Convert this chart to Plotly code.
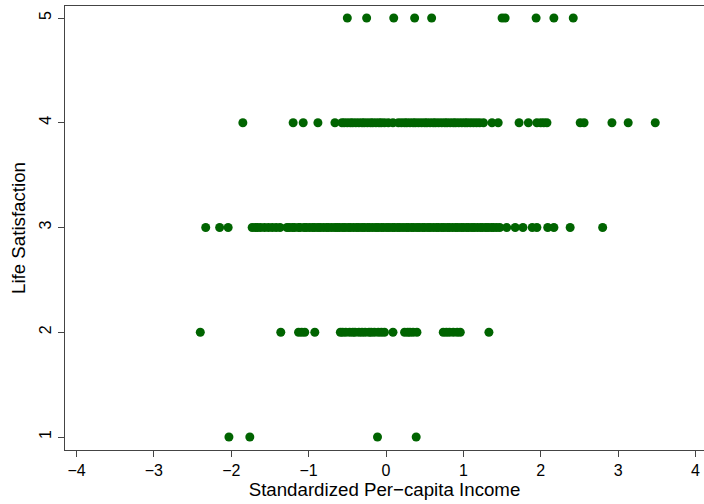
import plotly.graph_objects as go

# Standardized per-capita income, grouped by life-satisfaction level
income_ls1 = [-2.03, -1.76, -0.11, 0.39]
income_ls2 = [-2.40, -1.36, -1.13, -1.09, -1.05, -0.92,
              -0.59, -0.56, -0.52, -0.47, -0.43, -0.40, -0.35, -0.31, -0.27,
              -0.22, -0.19, -0.15, -0.10, -0.06, -0.02, 0.09,
              0.24, 0.28, 0.31, 0.35, 0.40, 0.74, 0.78, 0.82, 0.87, 0.92, 0.96, 1.33]
income_ls3 = [-2.33, -2.15, -2.04, -1.73, -1.69, -1.66, -1.62, -1.57, -1.52, -1.47, -1.42, -1.37,
              -1.28, -1.25, -1.21, -1.18, -1.13, -1.11, -1.06, -1.03, -0.99, -0.95, -0.92,
              -0.88, -0.85, -0.81, -0.77, -0.74, -0.70, -0.66, -0.63, -0.60, -0.56, -0.53,
              -0.49, -0.46, -0.42, -0.38, -0.35, -0.31, -0.28, -0.24, -0.21, -0.17, -0.13,
              -0.10, -0.06, -0.03, 0.01, 0.04, 0.08, 0.11, 0.15, 0.18, 0.22, 0.26, 0.29,
              0.33, 0.36, 0.40, 0.43, 0.47, 0.50, 0.54, 0.57, 0.61, 0.65, 0.68, 0.72,
              0.75, 0.79, 0.82, 0.86, 0.90, 0.93, 0.97, 1.00, 1.04, 1.07, 1.11, 1.14,
              1.18, 1.22, 1.25, 1.29, 1.32, 1.36, 1.39, 1.43,
              1.47, 1.56, 1.67, 1.77, 1.89, 1.95, 2.09, 2.17, 2.38, 2.80]
income_ls4 = [-1.85, -1.20, -1.07, -0.88, -0.66,
              -0.57, -0.54, -0.50, -0.46, -0.43, -0.39, -0.35, -0.31, -0.28, -0.24,
              -0.20, -0.17, -0.13, -0.09, -0.06, -0.02, 0.03, 0.09,
              0.16, 0.20, 0.24, 0.27, 0.31, 0.35, 0.38, 0.42, 0.46, 0.50, 0.53, 0.57,
              0.61, 0.64, 0.68, 0.72, 0.76, 0.79, 0.83, 0.87, 0.90, 0.94, 0.98, 1.02,
              1.05, 1.09, 1.13, 1.17, 1.21, 1.26, 1.37, 1.45,
              1.72, 1.84, 1.95, 2.00, 2.04, 2.08, 2.51, 2.56, 2.92, 3.13, 3.48]
income_ls5 = [-0.50, -0.25, 0.10, 0.37, 0.59, 1.50, 1.54, 1.94, 2.17, 2.42]

levels = [1, 2, 3, 4, 5]
groups = [income_ls1, income_ls2, income_ls3, income_ls4, income_ls5]

xs, ys = [], []
for lvl, vals in zip(levels, groups):
    xs.extend(vals)
    ys.extend([lvl] * len(vals))

x_ticks = [-4, -3, -2, -1, 0, 1, 2, 3, 4]
x_ticktext = ["\u22124", "\u22123", "\u22122", "\u22121", "0", "1", "2", "3", "4"]

FONT = "Liberation Sans, Arial, Helvetica, sans-serif"

fig = go.Figure(go.Scatter(
    x=xs, y=ys, mode="markers",
    marker=dict(color="#006400", size=9, line=dict(width=0)),
    showlegend=False,
))

fig.update_layout(
    width=704, height=504,
    margin=dict(l=65, r=0, t=6, b=54),
    paper_bgcolor="white", plot_bgcolor="white",
    font=dict(family=FONT, color="black"),
    xaxis=dict(
        range=[-4.1486, 4.1099], tickvals=x_ticks, ticktext=x_ticktext,
        showgrid=False, zeroline=False,
        showline=True, linecolor="#444", linewidth=1.3, mirror=True,
        ticks="outside", ticklen=6, tickwidth=1, tickcolor="#444",
        tickfont=dict(size=16),
        title=dict(text="Standardized Per\u2212capita Income", font=dict(size=18.7), standoff=4),
    ),
    yaxis=dict(
        range=[0.876, 5.115], tickvals=levels,
        showgrid=False, zeroline=False,
        showline=True, linecolor="#444", linewidth=1.3,
        ticks="outside", ticklen=6, tickwidth=1, tickcolor="#444",
        tickangle=-90, tickfont=dict(size=16),
        title=dict(text="Life Satisfaction", font=dict(size=18.7), standoff=6),
    ),
)

fig.write_html("out.html")
